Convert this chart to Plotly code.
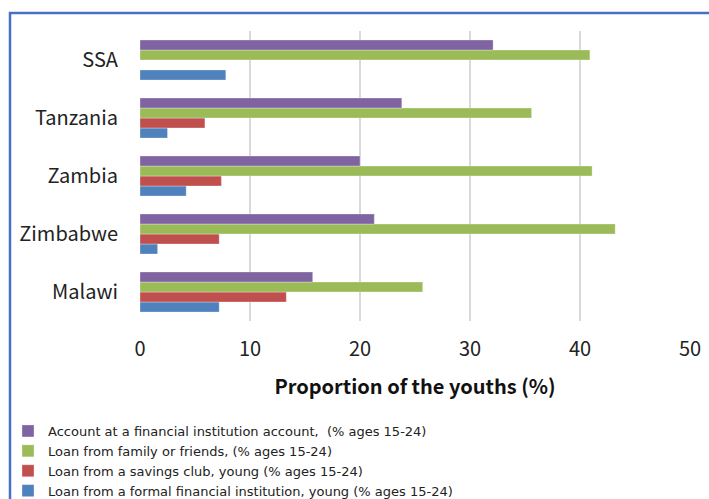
import plotly.graph_objects as go

categories = ["SSA", "Tanzania", "Zambia", "Zimbabwe", "Malawi"]
account = [32.1, 23.8, 20.0, 21.3, 15.7]
family_loan = [40.9, 35.6, 41.1, 43.2, 25.7]
savings_club = [None, 5.9, 7.4, 7.2, 13.3]
formal_loan = [7.8, 2.5, 4.2, 1.6, 7.2]

names = [
    "Loan from a formal financial institution, young (% ages 15-24)",
    "Loan from a savings club, young (% ages 15-24)",
    "Loan from family or friends, (% ages 15-24)",
    "Account at a financial institution account,  (% ages 15-24)",
]
colors = ["#4F81BD", "#C0504D", "#9BBB59", "#8064A2"]
series = [formal_loan, savings_club, family_loan, account]

FONT = "Noto Sans CJK JP, sans-serif"
LEG_FONT = "DejaVu Sans, sans-serif"

fig = go.Figure()
for nm, col, vals in zip(names, colors, series):
    fig.add_trace(go.Bar(
        y=categories, x=vals, name=nm, orientation="h",
        marker=dict(color=col, line=dict(color="rgba(255,255,255,0.6)", width=0.5)),
    ))

W, H = 709, 499
L, R, T, B = 140, 19, 31, 178
pw, ph = W - L - R, H - T - B

fig.update_layout(
    width=W, height=H,
    margin=dict(l=L, r=R, t=T, b=B, autoexpand=False),
    barmode="group", bargap=0.31, bargroupgap=0,
    plot_bgcolor="white", paper_bgcolor="white",
    font=dict(family=FONT, color="#222222"),
    xaxis=dict(
        range=[0, 50], dtick=10, showgrid=True, gridcolor="#D9D9D9", gridwidth=2,
        zeroline=False, showline=False,
        tickfont=dict(size=20, family=FONT, color="#222222"),
        ticks="outside", ticklen=10, tickcolor="rgba(0,0,0,0)",
        title=dict(text="<b>Proportion of the youths (%)</b>",
                   font=dict(size=20, family=FONT, color="#111111"), standoff=18),
        fixedrange=True,
    ),
    yaxis=dict(
        categoryorder="array", categoryarray=categories[::-1],
        showgrid=False, zeroline=False, showline=False,
        tickfont=dict(size=20, family=FONT, color="#222222"),
        ticks="outside", ticklen=17, tickcolor="rgba(0,0,0,0)",
        fixedrange=True,
    ),
    legend=dict(
        traceorder="reversed",
        x=(8 - L) / pw, xanchor="left",
        y=-(416 - (T + ph)) / ph, yanchor="top",
        font=dict(size=13, family=LEG_FONT, color="#222222"),
        itemwidth=30, tracegroupgap=0, bgcolor="rgba(0,0,0,0)",
    ),
    showlegend=True,
)

# blue chart-area border (extends beyond right and bottom edges)
fig.add_shape(
    type="rect", xref="paper", yref="paper",
    x0=(10 - L) / pw, x1=(W + 10 - L) / pw,
    y0=-(H + 10 - (T + ph)) / ph, y1=1 + (T - 13) / ph,
    line=dict(color="#4472C4", width=2.5), fillcolor="rgba(0,0,0,0)", layer="below",
)

fig.write_html("out.html")
